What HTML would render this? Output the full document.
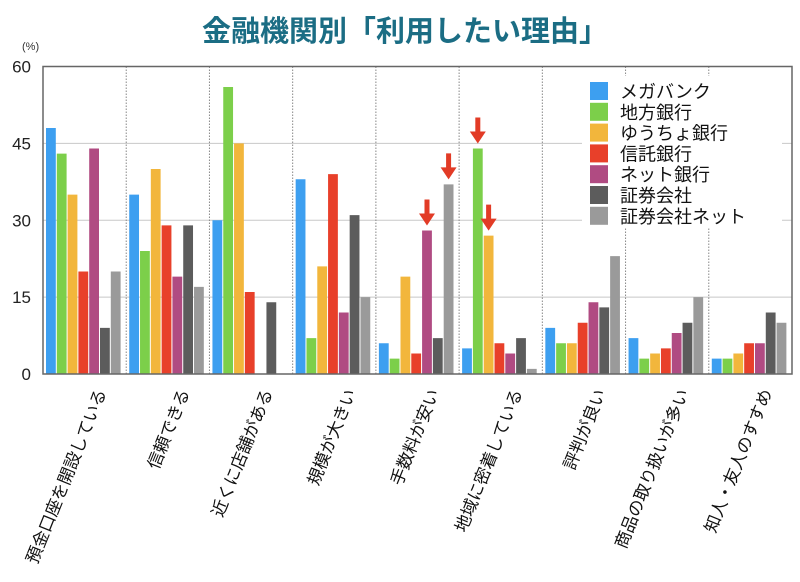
<!DOCTYPE html>
<html><head><meta charset="utf-8"><style>
body{margin:0;background:#fff;}
svg{display:block;font-family:"Liberation Sans","Noto Sans CJK JP",sans-serif;}
</style></head><body>
<svg id="chart" width="800" height="582" viewBox="0 0 800 582">
<text x="405" y="41" text-anchor="middle" font-size="29" font-weight="bold" fill="#1b6d84">金融機関別「利用したい理由」</text>
<text x="22" y="50" font-size="11" fill="#333">(%)</text>
<g id="grid"></g><g id="bars"></g><g id="axes"></g><g id="labels"></g><g id="legend"></g>
</svg>
<script>
const categories=["預金口座を開設している","信頼できる","近くに店舗がある","規模が大きい","手数料が安い","地域に密着している","評判が良い","商品の取り扱いが多い","知人・友人のすすめ"];
const seriesNames=["メガバンク","地方銀行","ゆうちょ銀行","信託銀行","ネット銀行","証券会社","証券会社ネット"];
const megabank=[48,35,30,38,6,5,9,7,3];
const chihou=[43,24,56,7,3,44,6,3,3];
const yucho=[35,40,45,21,19,27,6,4,4];
const shintaku=[20,29,16,39,4,6,10,5,6];
const netBank=[44,19,0,12,28,4,14,8,6];
const shoken=[9,29,14,31,7,7,13,10,12];
const shokenNet=[20,17,0,15,37,1,23,15,10];
const yTicks=[0,15,30,45,60];
const arrows=[[4,4],[4,6],[5,1],[5,2]];
const series=[megabank,chihou,yucho,shintaku,netBank,shoken,shokenNet];
const colors=["#3d9ff0","#7ccf4a","#f2b63c","#e8402a","#b04b82","#5c5c5c","#9a9a9a"];
const X0=43,X1=792,Y0=374,Y1=66.5,NS="http://www.w3.org/2000/svg";
const gw=(X1-X0)/categories.length;
const y=v=>Y0-(v/60)*(Y0-Y1);
const bx=(g,s)=>X0+g*gw+3+s*10.8;
function mk(t,a,p){const e=document.createElementNS(NS,t);for(const k in a)e.setAttribute(k,a[k]);document.getElementById(p).appendChild(e);return e;}
yTicks.forEach(t=>{
 if(t>0&&t<60){const l=mk('line',{x1:X0,x2:X1,y1:y(t),y2:y(t),stroke:'#c8c8c8','stroke-width':1},'grid');
 
 }
 const tx=mk('text',{x:31,y:y(t)+6,'text-anchor':'end','font-size':17,fill:'#222'},'axes');tx.textContent=t;
 
 
});
for(let g=1;g<categories.length;g++){const l=mk('line',{x1:X0+g*gw,x2:X0+g*gw,y1:Y1,y2:Y0,stroke:'#888','stroke-dasharray':'1.5,1.5','stroke-width':1},'grid');
 
 }
series.forEach((vals,s)=>vals.forEach((v,g)=>{
 const r=mk('rect',{x:bx(g,s),y:y(v),width:9.8,height:Y0-y(v),fill:colors[s]},'bars');
 
 
}));
const fr=mk('rect',{x:X0,y:Y1,width:X1-X0,height:Y0-Y1,fill:'none',stroke:'#666','stroke-width':1.5},'axes');


arrows.forEach(([g,s])=>{
 const cx=bx(g,s)+4.9,ty=y(series[s][g])-5;
 const a=mk('path',{d:`M${cx-2.5} ${ty-26}h5v14h5.5l-8 12l-8-12h5.5z`,fill:'#e23b26'},'bars');
 
 
});
categories.forEach((c,g)=>{
 const cx=X0+g*gw+gw/2+22;
 const t=mk('text',{x:cx,y:392,'text-anchor':'end','font-size':17,fill:'#111',transform:`rotate(-68 ${cx} 392)`},'labels');
 t.textContent=c;
 
 
});
const lb=mk('rect',{x:582,y:76,width:200,height:152,fill:'#fff'},'legend');


seriesNames.forEach((n,i)=>{
 const yy=82+i*20.8;
 const r=mk('rect',{x:590,y:yy,width:18,height:18,fill:colors[i]},'legend');
 
 
 const t=mk('text',{x:620,y:yy+16,'font-size':18,fill:'#111'},'legend');t.textContent=n;
 
 
});
</script>
</body></html>
